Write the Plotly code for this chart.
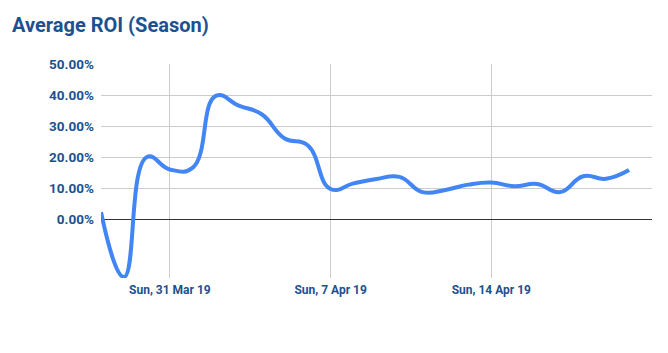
import plotly.graph_objects as go
import pandas as pd

# Data: daily average ROI (fraction)
dates = pd.date_range("2019-03-28", "2019-04-20", freq="D").strftime("%Y-%m-%d").tolist()
roi = [0.022, -0.187, 0.200, 0.160, 0.166, 0.397, 0.366, 0.338, 0.260, 0.238,
       0.097, 0.115, 0.129, 0.136, 0.087, 0.094, 0.111, 0.118, 0.106, 0.113,
       0.087, 0.138, 0.130, 0.158]

x_tick_vals = ["2019-03-31", "2019-04-07", "2019-04-14", "2019-04-21"]
x_tick_text = ["Sun, 31 Mar 19", "Sun, 7 Apr 19", "Sun, 14 Apr 19", ""]
y_tick_vals = [0, 0.1, 0.2, 0.3, 0.4, 0.5]

text_color = "#1c5190"

fig = go.Figure()
fig.add_trace(go.Scatter(
    x=dates, y=roi, mode="lines",
    line=dict(color="#4285F4", width=4, shape="spline", smoothing=1.3),
    hoverinfo="skip", showlegend=False,
))

fig.update_layout(
    width=668, height=353,
    margin=dict(l=100.5, r=15.7, t=64.3, b=75),
    paper_bgcolor="white", plot_bgcolor="white",
    font=dict(family="Roboto", color=text_color),
    title=dict(text="<b>Average ROI (Season)</b>", x=0, xref="container",
               xanchor="left", y=1 - 25 / 353, yref="container", yanchor="middle",
               pad=dict(l=12, t=0, b=0),
               font=dict(family="Roboto", size=20, color=text_color)),
    xaxis=dict(
        type="date", range=["2019-03-28", "2019-04-21"],
        tickmode="array", tickvals=x_tick_vals, ticktext=x_tick_text,
        showgrid=True, gridcolor="#cccccc", gridwidth=1,
        ticks="", showline=False, zeroline=False,
        tickfont=dict(family="Roboto", size=12, color=text_color, weight="bold"),
        ticklabelstandoff=3,
    ),
    yaxis=dict(
        range=[-0.19, 0.50],
        tickmode="array", tickvals=y_tick_vals, tickformat=".2%",
        showgrid=True, gridcolor="#cccccc", gridwidth=1,
        zeroline=True, zerolinecolor="#333333", zerolinewidth=1,
        ticks="", showline=False,
        tickfont=dict(family="Roboto", size=13.5, color=text_color, weight="bold"),
        ticklabelstandoff=6,
    ),
)

fig.write_html("out.html")
